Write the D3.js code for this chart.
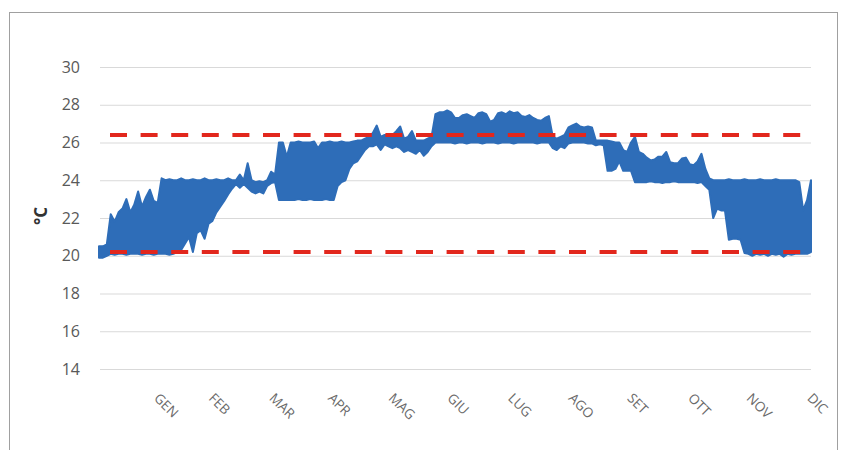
<!DOCTYPE html>
<html>
<head>
<meta charset="utf-8">
<script src="https://cdn.jsdelivr.net/npm/d3@7"></script>
<style>
  html, body { margin: 0; padding: 0; background: #fff; }
  svg { display: block; }
</style>
</head>
<body>
<svg id="chart" width="842" height="450"></svg>
<script>
// Indoor temperature over the year: daily low/high envelope sampled every 2 days (day of year)
const sampleDays = d3.range(0, 365, 2);

const tHigh = [
  20.5, 20.5, 20.6, 22.2, 21.8, 22.3, 22.5, 23.0, 22.3, 22.7,
  23.4, 22.6, 23.1, 23.5, 22.9, 22.8, 24.1, 24.0, 24.05, 24.0,
  24.0, 24.1, 24.0, 24.0, 24.05, 24.0, 24.0, 24.1, 24.0, 24.0,
  24.05, 24.0, 24.0, 24.1, 24.0, 24.0, 24.3, 24.0, 24.9, 24.0,
  23.9, 23.95, 23.9, 24.0, 24.45, 24.3, 26.0, 26.0, 25.25, 26.0,
  26.0, 26.05, 26.0, 26.0, 26.0, 26.05, 25.7, 26.0, 26.0, 26.05,
  26.0, 26.0, 26.05, 26.0, 26.0, 26.05, 26.1, 26.1, 26.2, 26.3,
  26.5, 26.9, 26.3, 26.4, 26.4, 26.4, 26.6, 26.85, 26.2, 26.3,
  26.6, 26.1, 26.1, 26.1, 26.2, 26.3, 27.5, 27.6, 27.6, 27.7,
  27.6, 27.3, 27.3, 27.45, 27.5, 27.4, 27.3, 27.55, 27.6, 27.5,
  27.1, 27.2, 27.55, 27.6, 27.5, 27.65, 27.55, 27.6, 27.4, 27.35,
  27.45, 27.3, 27.2, 27.15, 27.3, 27.4, 26.3, 26.2, 26.3, 26.4,
  26.8, 26.9, 27.0, 26.85, 26.8, 26.85, 26.8, 26.1, 26.1, 26.1,
  26.1, 26.05, 26.0, 26.0, 25.6, 25.5, 26.0, 26.3, 25.5, 25.4,
  25.2, 25.05, 25.1, 25.25, 25.25, 25.5, 24.95, 24.9, 24.9, 25.15,
  25.2, 24.85, 24.8, 25.0, 25.4, 24.6, 24.1, 24.0, 24.0, 24.0,
  24.0, 24.05, 24.0, 24.0, 24.0, 24.05, 24.0, 24.0, 24.0, 24.05,
  24.0, 24.0, 24.0, 24.05, 24.0, 24.0, 24.0, 24.0, 24.0, 23.9,
  22.4, 22.95, 24.0
];

const tLow = [
  19.9, 19.9, 20.0, 20.1, 20.05, 20.1, 20.1, 20.05, 20.1, 20.1,
  20.1, 20.05, 20.1, 20.1, 20.05, 20.1, 20.1, 20.1, 20.05, 20.1,
  20.2, 20.3, 20.65, 21.0, 20.2, 21.2, 21.35, 20.9, 21.7, 21.85,
  22.3, 22.6, 22.9, 23.25, 23.55, 23.8, 23.6, 23.8, 23.6, 23.4,
  23.3, 23.4, 23.3, 23.7, 23.85, 23.9, 22.95, 22.95, 22.95, 22.95,
  22.95, 23.0, 22.95, 22.95, 23.0, 22.95, 22.95, 22.95, 23.0, 22.95,
  22.95, 23.7, 23.9, 24.0, 24.6, 24.9, 25.0, 25.3, 25.6, 25.8,
  25.8, 25.9, 25.6, 25.9, 25.8, 25.7, 25.8, 25.7, 25.5, 25.6,
  25.5, 25.4, 25.6, 25.3, 25.5, 25.8, 26.0, 26.0, 26.0, 26.0,
  26.0, 25.95, 26.0, 26.0, 25.95, 26.0, 26.0, 26.0, 25.95, 26.0,
  26.0, 26.0, 25.95, 26.0, 26.0, 26.0, 25.95, 26.0, 26.0, 26.0,
  26.0, 26.0, 25.95, 26.0, 26.0, 26.0, 25.7, 25.6, 25.8, 25.7,
  25.95, 26.0, 26.0, 26.0, 26.0, 25.95, 25.95, 25.85, 25.9, 25.85,
  24.5, 24.5, 24.6, 25.0, 24.5, 24.5, 24.5, 23.9, 23.9, 23.9,
  23.9, 23.95, 23.9, 23.9, 23.85, 23.9, 23.9, 23.95, 23.9, 23.9,
  23.9, 23.9, 23.9, 23.85, 23.9, 23.7, 23.5, 22.0, 22.5, 22.4,
  22.4, 20.85, 20.9, 20.9, 20.85, 20.15, 20.1, 20.0, 20.1, 20.05,
  20.1, 20.0, 20.1, 20.05, 20.1, 19.95, 20.1, 20.05, 20.1, 20.1,
  20.1, 20.1, 20.2
];

// Comfort band limits (°C)
const upperLimit = 26.4;
const lowerLimit = 20.2;

// Y axis ticks
const yTicks = [14, 16, 18, 20, 22, 24, 26, 28, 30];

// Month labels, placed at the last day of each month
const monthNames = ["GEN", "FEB", "MAR", "APR", "MAG", "GIU", "LUG", "AGO", "SET", "OTT", "NOV", "DIC"];
const monthEnds = [31, 59, 90, 120, 151, 181, 212, 243, 273, 304, 334, 365];

const svg = d3.select("#chart");

// outer frame
svg.append("rect")
  .attr("x", 9.5).attr("y", 12.5)
  .attr("width", 828).attr("height", 460)
  .attr("fill", "none")
  .attr("stroke", "#a0a0a0")
  .attr("stroke-width", 1);

const x = d3.scaleLinear().domain([0, 364]).range([99, 811]);
const y = d3.scaleLinear().domain([14, 30]).range([369, 67]);

// Y axis with gridlines
const yAxis = svg.append("g")
  .attr("transform", "translate(100,0)")
  .call(d3.axisLeft(y).tickValues(yTicks).tickSize(-711).tickPadding(20).tickFormat(d3.format("d")));
yAxis.select(".domain").remove();
yAxis.selectAll(".tick line").attr("stroke", "#d9d9d9").attr("stroke-width", 1.2);
yAxis.selectAll(".tick text")
  .attr("fill", "#595959")
  .style("font-family", "'Open Sans', sans-serif")
  .style("font-size", "16px");

// Y axis title
svg.append("text")
  .attr("transform", "translate(47,216) rotate(-90)")
  .attr("text-anchor", "middle")
  .attr("fill", "#333")
  .style("font-family", "'Open Sans', sans-serif")
  .style("font-size", "17px")
  .style("font-weight", "bold")
  .text("°C");

// X axis month labels, rotated 45°
const xAxis = svg.append("g")
  .attr("transform", "translate(0,369)")
  .call(d3.axisBottom(x).tickValues(monthEnds).tickSize(0).tickFormat((d, i) => monthNames[i]));
xAxis.select(".domain").remove();
xAxis.selectAll(".tick text")
  .attr("y", 0).attr("dy", 0)
  .attr("text-anchor", "start")
  .attr("transform", "translate(-7,30) rotate(45)")
  .attr("fill", "#6a6a6a")
  .style("font-family", "'Open Sans', sans-serif")
  .style("font-size", "13.5px");

// temperature band
const series = sampleDays.map((d, i) => ({ day: d, lo: tLow[i], hi: tHigh[i] }));
const band = d3.area()
  .x(d => x(d.day))
  .y0(d => y(d.lo))
  .y1(d => y(d.hi));
svg.append("path")
  .datum(series)
  .attr("d", band)
  .attr("fill", "#2e6db8")
  .attr("stroke", "#2e6db8")
  .attr("stroke-width", 2)
  .attr("stroke-linejoin", "round");

// comfort limits, dashed red
const limitLine = d3.line().x(d => x(d[0])).y(d => y(d[1]));
[upperLimit, lowerLimit].forEach(v => {
  svg.append("path")
    .attr("d", limitLine([[0, v], [364, v]]))
    .attr("fill", "none")
    .attr("stroke", "#e2271d")
    .attr("stroke-width", 4)
    .attr("stroke-dasharray", "17 13.6")
    .attr("stroke-dashoffset", 19.6);
});
</script>
</body>
</html>
